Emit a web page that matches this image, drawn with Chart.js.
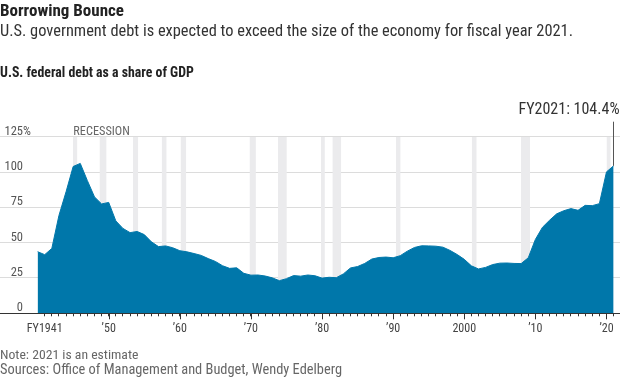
<!DOCTYPE html>
<html><head><meta charset="utf-8">
<script src="https://cdn.jsdelivr.net/npm/chart.js@4/dist/chart.umd.min.js"></script>
<style>
html,body{margin:0;padding:0;background:#fff;}
#wrap{position:relative;width:620px;height:380px;overflow:hidden;font-family:"Roboto Condensed",Roboto,sans-serif;}
#cv{position:absolute;left:0;top:0;}
.t{position:absolute;left:0;white-space:nowrap;margin:0;line-height:1;}
#title{top:2px;font-size:17px;font-weight:bold;color:#222;}
#sub{top:22.7px;font-size:16.4px;color:#333;}
#ctitle{top:66.4px;font-size:13.8px;font-weight:bold;color:#222;}
#note{top:347.8px;font-size:13.7px;color:#666;}
#src{top:363.4px;font-size:14.4px;color:#666;}
</style></head>
<body><div id="wrap">
<canvas id="cv" width="620" height="380"></canvas>
<div class="t" id="title">Borrowing Bounce</div>
<div class="t" id="sub">U.S. government debt is expected to exceed the size of the economy for fiscal year 2021.</div>
<div class="t" id="ctitle">U.S. federal debt as a share of GDP</div>
<div class="t" id="note">Note: 2021 is an estimate</div>
<div class="t" id="src">Sources: Office of Management and Budget, Wendy Edelberg</div>
</div>
<script>
// ---- data ----
const years = [1940,1941,1942,1943,1944,1945,1946,1947,1948,1949,
1950,1951,1952,1953,1954,1955,1956,1957,1958,1959,
1960,1961,1962,1963,1964,1965,1966,1967,1968,1969,
1970,1971,1972,1973,1974,1975,1976,1977,1978,1979,
1980,1981,1982,1983,1984,1985,1986,1987,1988,1989,
1990,1991,1992,1993,1994,1995,1996,1997,1998,1999,
2000,2001,2002,2003,2004,2005,2006,2007,2008,2009,
2010,2011,2012,2013,2014,2015,2016,2017,2018,2019,
2020,2021];
const debtShare = [43.6,41.5,45.9,69.2,86.0,103.9,106.1,93.9,82.4,77.4,
78.5,65.4,60.1,57.1,57.9,55.7,50.6,47.2,47.7,46.4,
44.3,43.5,42.3,41.0,38.7,36.7,33.7,31.8,32.2,28.3,
27.0,27.1,26.4,25.1,23.1,24.5,26.7,26.3,27.1,26.6,
24.9,25.5,25.2,27.9,32.1,33.1,35.3,38.4,39.5,39.8,
39.3,40.8,44.0,46.6,47.8,47.7,47.5,46.8,44.5,41.6,
38.2,33.6,31.4,32.5,34.5,35.5,35.6,35.3,35.2,39.3,
52.3,60.9,65.9,70.4,72.6,74.1,72.9,76.4,76.2,77.6,
100.1,104.4];
const recessionStart = [1944.95,1948.7,1953.4,1957.45,1960.1,1969.8,1973.8,1979.85,1981.45,1990.4,2001.05,2007.95,2020.0];
const recessionEnd   = [1945.6,1949.7,1954.15,1958.15,1960.9,1970.7,1975.05,1980.4,1982.7,1991.05,2001.75,2009.25,2020.6];
const yTicks = [0,25,50,75,100,125];
const xLabelYears = [1941,1950,1960,1970,1980,1990,2000,2010,2020];
const xLabels = ['FY1941','\u201950','\u201960','\u201970','\u201980','\u201990','2000','\u201910','\u201920'];
const annotationText = 'FY2021: 104.4%';
const recessionText = 'RECESSION';

const FONT = '"Roboto Condensed",Roboto,sans-serif';

const areaData = years.map((y,i)=>({x:y,y:debtShare[i]}));
const recData = [];
recessionStart.forEach((s,i)=>{
  recData.push({x:s,y:125});
  recData.push({x:recessionEnd[i],y:125});
  recData.push({x:recessionEnd[i]+0.01,y:null});
});

const overlay = {
  id:'overlay',
  afterDraw(chart){
    const ctx = chart.ctx, xs = chart.scales.x, ys = chart.scales.y;
    ctx.save();
    // y labels
    ctx.fillStyle = '#555';
    ctx.font = '12.5px '+FONT;
    ctx.textBaseline = 'alphabetic';
    yTicks.forEach(v=>{
      const py = ys.getPixelForValue(v) - 2;
      ctx.textAlign = 'right';
      ctx.fillText(String(v), 23, py);
      if (v === yTicks[yTicks.length-1]) { ctx.textAlign='left'; ctx.fillText('%', 23, py); }
    });
    // major ticks
    ctx.strokeStyle = '#333'; ctx.lineWidth = 1;
    const by = ys.getPixelForValue(0);
    xLabelYears.slice(1).forEach(v=>{
      const px = Math.round(xs.getPixelForValue(v))+0.5;
      ctx.beginPath(); ctx.moveTo(px, by); ctx.lineTo(px, by+6); ctx.stroke();
    });
    // recession label
    ctx.fillStyle = '#666';
    ctx.textAlign = 'left';
    ctx.font = '12.3px '+FONT;
    ctx.fillText(recessionText, xs.getPixelForValue(recessionStart[0])+0.5, ys.getPixelForValue(125)-2);
    // annotation
    const lx = Math.round(xs.getPixelForValue(years[years.length-1]))-0.5;
    const ly = ys.getPixelForValue(debtShare[debtShare.length-1]);
    ctx.strokeStyle = '#555';
    ctx.beginPath(); ctx.moveTo(lx, ys.getPixelForValue(125)-15); ctx.lineTo(lx, ly); ctx.stroke();
    ctx.fillStyle = '#333';
    ctx.font = '16px '+FONT;
    ctx.textAlign = 'right';
    ctx.fillText(annotationText, 619.5, 114);
    ctx.restore();
  }
};

new Chart(document.getElementById('cv'), {
  type:'line',
  data:{datasets:[
    {data:areaData, fill:'origin', backgroundColor:'#0077aa', borderColor:'#0077aa', borderWidth:1, pointRadius:0, tension:0, order:1},
    {data:recData, fill:'origin', backgroundColor:'#ebebed', borderWidth:0, borderColor:'rgba(0,0,0,0)', pointRadius:0, tension:0, spanGaps:false, order:2}
  ]},
  options:{
    responsive:false, animation:false, devicePixelRatio:1,
    layout:{padding:{top:136.7,bottom:36.7,left:0,right:0}},
    plugins:{legend:{display:false},tooltip:{enabled:false}},
    scales:{
      x:{type:'linear', min:1934.712, max:2021.9, z:2,
        afterFit(s){ s.height = 30; },
        afterBuildTicks(s){ s.ticks = years.filter(v=>v>=xLabelYears[0]).map(v=>({value:v})); },
        grid:{drawOnChartArea:false, tickLength:3, tickColor:'#333', tickWidth:1},
        border:{display:true,color:'#333',width:1},
        ticks:{autoSkip:false, maxRotation:0, padding:5, color:'#444', font:{family:FONT,size:12},
          callback(v){ const k = xLabelYears.indexOf(v); return k>=0 ? xLabels[k] : ''; }}
      },
      y:{min:0,max:125, z:1,
        afterFit(s){ s.width = 0; },
        ticks:{display:false, stepSize:25},
        grid:{drawTicks:false, color:(c)=> c.tick && c.tick.value===0 ? 'rgba(0,0,0,0)' : '#dcdcdc', lineWidth:1},
        border:{display:false}
      }
    }
  },
  plugins:[overlay]
});
</script>
</body></html>
